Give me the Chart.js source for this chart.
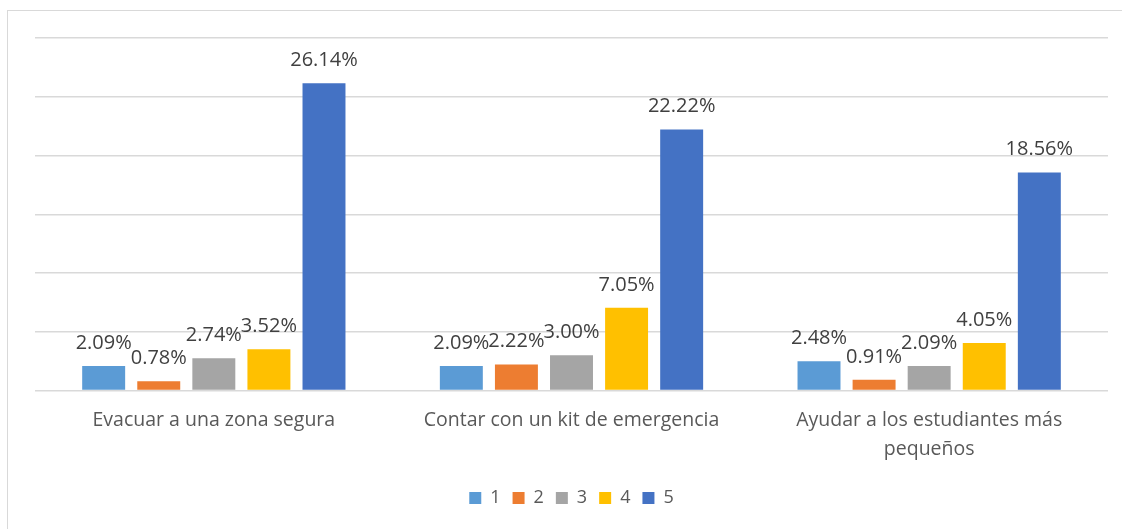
<!DOCTYPE html>
<html>
<head>
<meta charset="utf-8">
<script src="https://cdn.jsdelivr.net/npm/chart.js@4.4.1/dist/chart.umd.min.js"></script>
<style>
  html, body { margin: 0; padding: 0; background: #fff; }
  #wrap { width: 1122px; height: 529px; position: relative; }
</style>
</head>
<body>
<div id="wrap"><canvas id="barChart"></canvas></div>
<script>
// Categories (x axis labels), third one wrapped in two lines
const categories = [
    'Evacuar a una zona segura',
    'Contar con un kit de emergencia',
    ['Ayudar a los estudiantes más', 'pequeños']
];

// Series names (legend)
const seriesNames = ['1', '2', '3', '4', '5'];

// Values per series, in percent
const values1 = [2.09, 2.09, 2.48];
const values2 = [0.78, 2.22, 0.91];
const values3 = [2.74, 3.00, 2.09];
const values4 = [3.52, 7.05, 4.05];
const values5 = [26.14, 22.22, 18.56];

// Y axis range (no tick labels shown, only gridlines)
const yMax = 30;
const yStep = 5;

const seriesColors = ['#5B9BD5', '#ED7D31', '#A5A5A5', '#FFC000', '#4472C4'];
const allValues = [values1, values2, values3, values4, values5];

const fontFamily = '"Open Sans", sans-serif';

// Light border around the chart like the office export
const borderPlugin = {
    id: 'outerBorder',
    beforeDraw(chart) {
        const ctx = chart.ctx;
        ctx.save();
        ctx.strokeStyle = '#d9d9d9';
        ctx.lineWidth = 1;
        ctx.strokeRect(7.5, 10.5, 1200, 600);
        ctx.restore();
    }
};

// Value labels above each bar
const valueLabels = {
    id: 'valueLabels',
    afterDatasetsDraw(chart) {
        const ctx = chart.ctx;
        ctx.save();
        ctx.font = '20px ' + fontFamily;
        ctx.fillStyle = '#404040';
        ctx.textAlign = 'center';
        ctx.textBaseline = 'alphabetic';
        chart.data.datasets.forEach((ds, i) => {
            const meta = chart.getDatasetMeta(i);
            meta.data.forEach((bar, j) => {
                ctx.fillText(ds.data[j].toFixed(2) + '%', bar.x, bar.y - 17);
            });
        });
        ctx.restore();
    }
};

const ctx = document.getElementById('barChart').getContext('2d');
new Chart(ctx, {
    type: 'bar',
    data: {
        labels: categories,
        datasets: seriesNames.map((name, i) => ({
            label: name,
            data: allValues[i],
            backgroundColor: seriesColors[i],
            borderWidth: 0,
            categoryPercentage: 0.77,
            barPercentage: 0.78
        }))
    },
    options: {
        responsive: true,
        maintainAspectRatio: false,
        animation: false,
        layout: {
            padding: { left: 35, right: 14, top: 38, bottom: 12 }
        },
        scales: {
            x: {
                grid: { display: false },
                border: { display: false },
                ticks: {
                    color: '#595959',
                    font: { family: fontFamily, size: 19.5, lineHeight: 1.5 },
                    padding: 7,
                    maxRotation: 0
                },
                afterFit(scale) {
                    scale.height += 6; // extra room between labels and legend
                }
            },
            y: {
                min: 0,
                max: yMax,
                ticks: { display: false, stepSize: yStep },
                grid: { color: '#d9d9d9', lineWidth: 1.5, drawTicks: false },
                border: { display: false }
            }
        },
        plugins: {
            legend: {
                position: 'bottom',
                labels: {
                    color: '#595959',
                    font: { family: fontFamily, size: 18 },
                    boxWidth: 12,
                    boxHeight: 12,
                    padding: 12
                }
            },
            tooltip: { enabled: false }
        }
    },
    plugins: [borderPlugin, valueLabels]
});
</script>
</body>
</html>
